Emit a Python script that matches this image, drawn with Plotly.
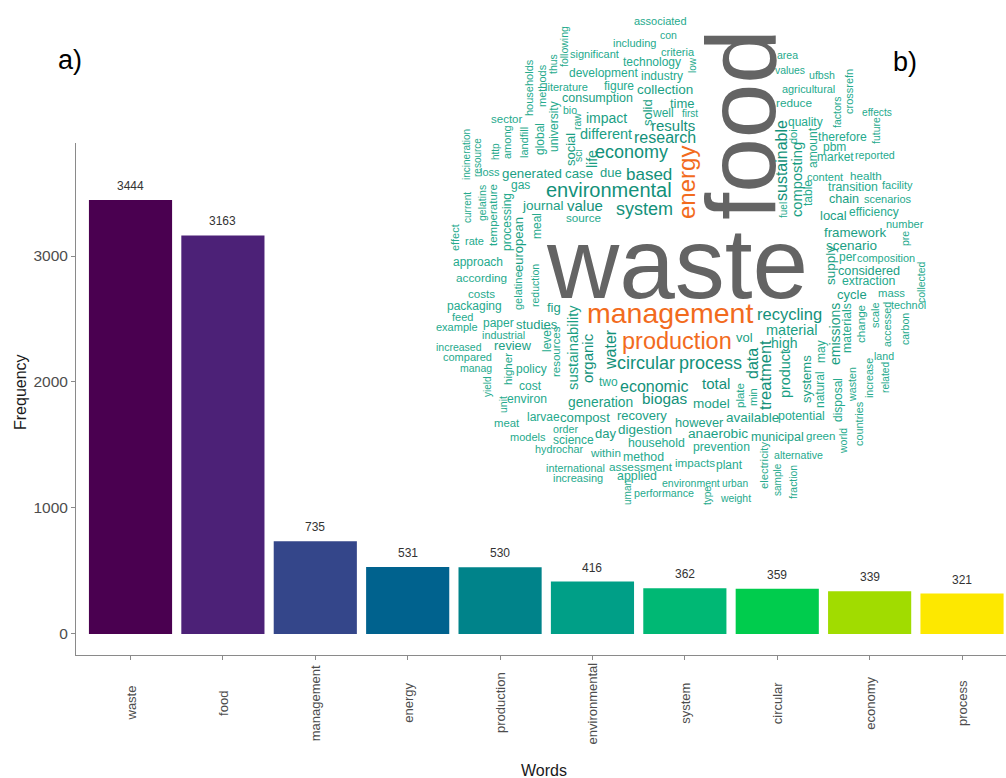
import plotly.graph_objects as go

# ---------------- data ----------------
words = ["waste", "food", "management", "energy", "production",
         "environmental", "system", "circular", "economy", "process"]
freq = [3444, 3163, 735, 531, 530, 416, 362, 359, 339, 321]
bar_colors = ["#4a0050", "#4c2177", "#34468a", "#00628e", "#00838a",
              "#009f87", "#00b874", "#00cc4d", "#a1dc00", "#fde800"]
y_ticks = [0, 1000, 2000, 3000]

# word cloud: word, x_px, y_px, size_px, vertical, colour group
cloud = [
    ("waste", 677, 263, 100, 0, "g"), ("food", 741, 125, 98, 1, "g"),
    ("management", 670, 313, 28.5, 0, "o"), ("production", 677, 341, 23.5, 0, "o"),
    ("energy", 686, 183, 24, 1, "o"),
    ("associated", 660, 21, 11, 0, "t"), ("con", 668, 35, 10.5, 0, "t"),
    ("including", 634, 43, 11, 0, "t"), ("criteria", 678, 52, 11, 0, "t"),
    ("low", 692, 65, 10, 1, "t"), ("significant", 594, 54, 11, 0, "t"),
    ("technology", 652, 62, 12, 0, "t"), ("following", 564, 47, 10.5, 1, "t"),
    ("thus", 553, 64, 10.5, 1, "t"), ("households", 529, 88, 11, 1, "t"),
    ("methods", 542, 86, 11, 1, "t"), ("development", 603, 73, 12, 0, "t"),
    ("industry", 662, 76, 12, 0, "t"), ("literature", 566, 87, 11, 0, "t"),
    ("figure", 619, 86, 12, 0, "t"), ("collection", 665, 89, 13.5, 0, "t"),
    ("consumption", 597, 98, 12.5, 0, "t"), ("time", 682, 103, 13, 0, "t"),
    ("university", 554, 127, 12, 1, "t"), ("bio", 570, 110, 10.5, 0, "t"),
    ("raw", 577, 122, 10.5, 1, "t"), ("solid", 647, 113, 13, 1, "t"),
    ("well", 663, 113, 12, 0, "t"), ("first", 690, 113, 10, 0, "t"),
    ("impact", 606, 118, 14, 0, "t"), ("results", 673, 125, 15, 0, "t"),
    ("sector", 506, 119, 11.5, 0, "t"), ("among", 507, 142, 11, 1, "t"),
    ("landfill", 524, 143, 11, 1, "t"), ("global", 540, 139, 12, 1, "t"),
    ("different", 606, 134, 14.5, 0, "t"), ("research", 665, 137, 16, 0, "t"),
    ("incineration", 466, 155, 10, 1, "t"), ("resource", 477, 158, 10, 1, "t"),
    ("http", 495, 152, 10, 1, "t"), ("social", 570, 150, 13, 1, "t"),
    ("sci", 578, 156, 10.5, 1, "t"), ("life", 592, 159, 14, 1, "t"),
    ("economy", 631, 152, 18, 0, "t"), ("loss", 490, 172, 11, 0, "t"),
    ("generated", 532, 173, 13.3, 0, "t"), ("case", 579, 173, 13.3, 0, "t"),
    ("due", 611, 172, 13, 0, "t"), ("based", 649, 174, 17, 0, "t"),
    ("environmental", 609, 190, 20, 0, "t"), ("gas", 520, 185, 12, 0, "t"),
    ("journal", 543, 205, 13.5, 0, "t"), ("value", 585, 205, 15, 0, "t"),
    ("source", 583, 217, 11.7, 0, "t"), ("system", 644, 209, 18, 0, "t"),
    ("current", 467, 208, 10, 1, "t"), ("gelatins", 482, 203, 10.5, 1, "t"),
    ("temperature", 493, 215, 11.5, 1, "t"), ("processing", 507, 222, 12, 1, "t"),
    ("effect", 455, 238, 11, 1, "t"), ("rate", 474, 241, 11, 0, "t"),
    ("european", 518, 245, 13, 1, "t"), ("meal", 537, 226, 12, 1, "t"),
    ("approach", 478, 262, 12, 0, "t"), ("according", 481, 278, 11.8, 0, "t"),
    ("gelatine", 518, 291, 11, 1, "t"), ("reduction", 535, 286, 10.5, 1, "t"),
    ("costs", 481, 293, 11.6, 0, "t"), ("packaging", 474, 306, 12, 0, "t"),
    ("fig", 554, 307, 13, 0, "t"), ("sustainability", 573, 348, 14.8, 1, "t"),
    ("feed", 462, 317, 11, 0, "t"), ("example", 457, 327, 11, 0, "t"),
    ("paper", 498, 323, 12, 0, "t"), ("studies", 537, 324, 13, 0, "t"),
    ("industrial", 503, 335, 10.8, 0, "t"), ("increased", 459, 347, 10.5, 0, "t"),
    ("review", 513, 345, 12.8, 0, "t"), ("level", 547, 340, 12, 1, "t"),
    ("resources", 556, 352, 11.5, 1, "t"), ("compared", 467, 357, 11, 0, "t"),
    ("manag", 476, 368, 10.5, 0, "t"), ("higher", 508, 369, 11.5, 1, "t"),
    ("policy", 531, 369, 12, 0, "t"), ("organic", 587, 358, 15, 1, "t"),
    ("water", 610, 350, 16, 1, "t"), ("circular", 646, 363, 18, 0, "t"),
    ("process", 710, 363, 18, 0, "t"), ("yield", 487, 387, 10, 1, "t"),
    ("cost", 530, 386, 12, 0, "t"), ("two", 608, 382, 12, 0, "t"),
    ("economic", 654, 386, 16, 0, "t"), ("total", 716, 383, 15, 0, "t"),
    ("data", 752, 364, 16, 1, "t"), ("treatment", 765, 375, 16.5, 1, "t"),
    ("vol", 744, 337, 13, 0, "t"), ("high", 784, 343, 14, 0, "t"),
    ("product", 785, 374, 14.4, 1, "t"), ("systems", 806, 379, 13, 1, "t"),
    ("natural", 820, 390, 12, 1, "t"), ("may", 821, 352, 12, 1, "t"),
    ("emissions", 835, 334, 14, 1, "t"), ("materials", 847, 328, 12.3, 1, "t"),
    ("change", 860, 324, 11.6, 1, "t"), ("scale", 875, 315, 11, 1, "t"),
    ("accessed", 887, 325, 10.7, 1, "t"), ("carbon", 905, 329, 10.5, 1, "t"),
    ("technol", 908, 305, 10.9, 0, "t"), ("collected", 921, 282, 10.5, 1, "t"),
    ("mass", 891, 293, 11.3, 0, "t"), ("recycling", 789, 314, 16.5, 0, "t"),
    ("material", 792, 330, 14.5, 0, "t"), ("cycle", 852, 294, 13, 0, "t"),
    ("extraction", 868, 281, 12.3, 0, "t"), ("considered", 869, 271, 12.7, 0, "t"),
    ("supply", 830, 266, 13.5, 1, "t"), ("per", 847, 257, 12, 0, "t"),
    ("composition", 886, 258, 10.9, 0, "t"), ("scenario", 851, 245, 13.5, 0, "t"),
    ("framework", 855, 232, 13.3, 0, "t"), ("number", 905, 224, 11, 0, "t"),
    ("pre", 905, 239, 10.5, 1, "t"), ("local", 833, 215, 13, 0, "t"),
    ("efficiency", 874, 212, 12, 0, "t"), ("chain", 844, 199, 12.6, 0, "t"),
    ("scenarios", 888, 199, 11, 0, "t"), ("transition", 853, 187, 12.3, 0, "t"),
    ("facility", 897, 185, 11, 0, "t"), ("content", 825, 177, 11, 0, "t"),
    ("health", 866, 175, 11.7, 0, "t"), ("fuel", 783, 210, 10, 1, "t"),
    ("sustainable", 781, 161, 16, 1, "t"), ("composting", 797, 180, 14.7, 1, "t"),
    ("table", 808, 193, 12, 1, "t"), ("quality", 805, 122, 12, 0, "t"),
    ("doi", 793, 137, 11, 1, "t"), ("amount", 813, 148, 12, 1, "t"),
    ("therefore", 842, 137, 12.2, 0, "t"), ("pbm", 834, 147, 12, 0, "t"),
    ("market", 835, 157, 12, 0, "t"), ("reported", 875, 155, 10.7, 0, "t"),
    ("future", 876, 131, 10.5, 1, "t"), ("effects", 877, 112, 10.2, 0, "t"),
    ("factors", 837, 112, 10.5, 1, "t"), ("crossrefn", 849, 92, 11, 1, "t"),
    ("reduce", 794, 103, 11.8, 0, "t"), ("agricultural", 808, 89, 10.9, 0, "t"),
    ("ufbsh", 822, 75, 10.6, 0, "t"), ("values", 790, 70, 10.4, 0, "t"),
    ("area", 787, 55, 10.5, 0, "t"),
    ("unit", 503, 405, 10.5, 1, "t"), ("environ", 527, 399, 12.2, 0, "t"),
    ("generation", 600, 402, 13.8, 0, "t"), ("biogas", 664, 398, 15.3, 0, "t"),
    ("model", 711, 403, 13.5, 0, "t"), ("plate", 740, 396, 11.5, 1, "t"),
    ("min", 753, 397, 11, 1, "t"), ("meat", 507, 423, 11.3, 0, "t"),
    ("larvae", 543, 417, 12, 0, "t"), ("compost", 585, 417, 13.2, 0, "t"),
    ("recovery", 642, 415, 13, 0, "t"), ("however", 699, 422, 12.8, 0, "t"),
    ("available", 752, 417, 13.5, 0, "t"), ("potential", 801, 416, 12.4, 0, "t"),
    ("disposal", 838, 400, 12, 1, "t"), ("wasten", 852, 385, 10.7, 1, "t"),
    ("countries", 859, 424, 10.9, 1, "t"), ("increase", 869, 378, 10.6, 1, "t"),
    ("related", 885, 378, 10.2, 1, "t"), ("land", 884, 356, 10.6, 0, "t"),
    ("world", 843, 441, 10.5, 1, "t"), ("green", 820, 436, 11.5, 0, "t"),
    ("municipal", 777, 437, 12.5, 0, "t"), ("anaerobic", 718, 433, 13.7, 0, "t"),
    ("household", 656, 443, 12.3, 0, "t"), ("digestion", 645, 429, 13.5, 0, "t"),
    ("day", 605, 433, 13, 0, "t"), ("order", 565, 429, 10.7, 0, "t"),
    ("models", 528, 437, 11, 0, "t"), ("science", 573, 440, 12, 0, "t"),
    ("hydrochar", 559, 449, 10.8, 0, "t"), ("within", 605, 452, 11.7, 0, "t"),
    ("method", 643, 457, 12.3, 0, "t"), ("prevention", 721, 447, 12.2, 0, "t"),
    ("electricity", 764, 466, 11.3, 1, "t"), ("alternative", 798, 455, 10.6, 0, "t"),
    ("sample", 777, 480, 10, 1, "t"), ("fraction", 793, 482, 10.4, 1, "t"),
    ("impacts", 695, 462, 11.6, 0, "t"), ("plant", 729, 465, 12, 0, "t"),
    ("assessment", 641, 467, 11.8, 0, "t"), ("international", 575, 468, 10.8, 0, "t"),
    ("increasing", 578, 478, 11, 0, "t"), ("applied", 637, 476, 12.4, 0, "t"),
    ("environment", 691, 483, 10.5, 0, "t"), ("urban", 735, 483, 10.2, 0, "t"),
    ("performance", 664, 493, 10.7, 0, "t"), ("uman", 627, 493, 10, 1, "t"),
    ("type", 707, 496, 10, 1, "t"), ("weight", 735, 498, 10.4, 0, "t"),
]

# ---------------- layout helpers ----------------
W, H = 1006, 778
L, R, T, B = 76, 0, 143, 123
PW, PH = W - L - R, H - T - B


def px(x):
    return (x - L) / PW


def py(y):
    return (H - B - y) / PH


FONT = "Liberation Sans, Arial, sans-serif"

fig = go.Figure()
fig.add_trace(go.Bar(
    x=list(range(len(words))), y=freq, marker=dict(color=bar_colors, line=dict(width=0)),
    width=0.9, showlegend=False, hoverinfo="x+y"))

ann = []
# bar value labels
for i, v in enumerate(freq):
    ann.append(dict(x=i, y=v, xref="x", yref="y", text=str(v), showarrow=False,
                    yanchor="bottom", yshift=5, font=dict(size=12, color="#333333", family=FONT)))
# x category labels (vertical, centred)
for i, w in enumerate(words):
    ann.append(dict(x=i, y=py(703), xref="x", yref="paper", text=w, showarrow=False,
                    textangle=-90, xanchor="center", yanchor="middle",
                    font=dict(size=13, color="#4d4d4d", family=FONT)))
# axis titles & panel labels
ann.append(dict(x=px(544), y=py(770), xref="paper", yref="paper", text="Words", showarrow=False,
                xanchor="center", yanchor="middle", font=dict(size=16, color="#1a1a1a", family=FONT)))
ann.append(dict(x=px(20), y=py(392), xref="paper", yref="paper", text="Frequency", showarrow=False,
                textangle=-90, xanchor="center", yanchor="middle",
                font=dict(size=16, color="#1a1a1a", family=FONT)))
ann.append(dict(x=px(70), y=py(60), xref="paper", yref="paper", text="a)", showarrow=False,
                xanchor="center", yanchor="middle", font=dict(size=27, color="#000000", family=FONT)))
ann.append(dict(x=px(905), y=py(62), xref="paper", yref="paper", text="b)", showarrow=False,
                xanchor="center", yanchor="middle", font=dict(size=27, color="#000000", family=FONT)))

COL = {"g": "#646464", "o": "#f26b1d"}
for w, x, y, s, vert, grp in cloud:
    if grp == "t":
        c = "#13917a" if s >= 15 else ("#1b9f84" if s >= 12.5 else "#25aa8d")
    else:
        c = COL[grp]
    ann.append(dict(x=px(x), y=py(y), xref="paper", yref="paper", text=w, showarrow=False,
                    textangle=-90 if vert else 0, xanchor="center", yanchor="middle",
                    borderpad=0, font=dict(size=s, color=c, family=FONT)))

fig.update_layout(
    width=W, height=H, margin=dict(l=L, r=R, t=T, b=B, pad=0),
    plot_bgcolor="white", paper_bgcolor="white", annotations=ann,
    xaxis=dict(range=[-0.59, 9.476], tickvals=list(range(len(words))), showticklabels=False,
               ticks="outside", ticklen=4, tickcolor="#8a8a8a", showline=True,
               linecolor="#8a8a8a", linewidth=1, showgrid=False, zeroline=False),
    yaxis=dict(range=[-167, 3897], tickvals=y_ticks, ticks="outside", ticklen=4,
               tickcolor="#8a8a8a", showline=True, linecolor="#8a8a8a", linewidth=1,
               showgrid=False, zeroline=False,
               tickfont=dict(size=15.5, color="#4d4d4d", family=FONT)),
    bargap=0.1,
)
fig.write_html("out.html")
